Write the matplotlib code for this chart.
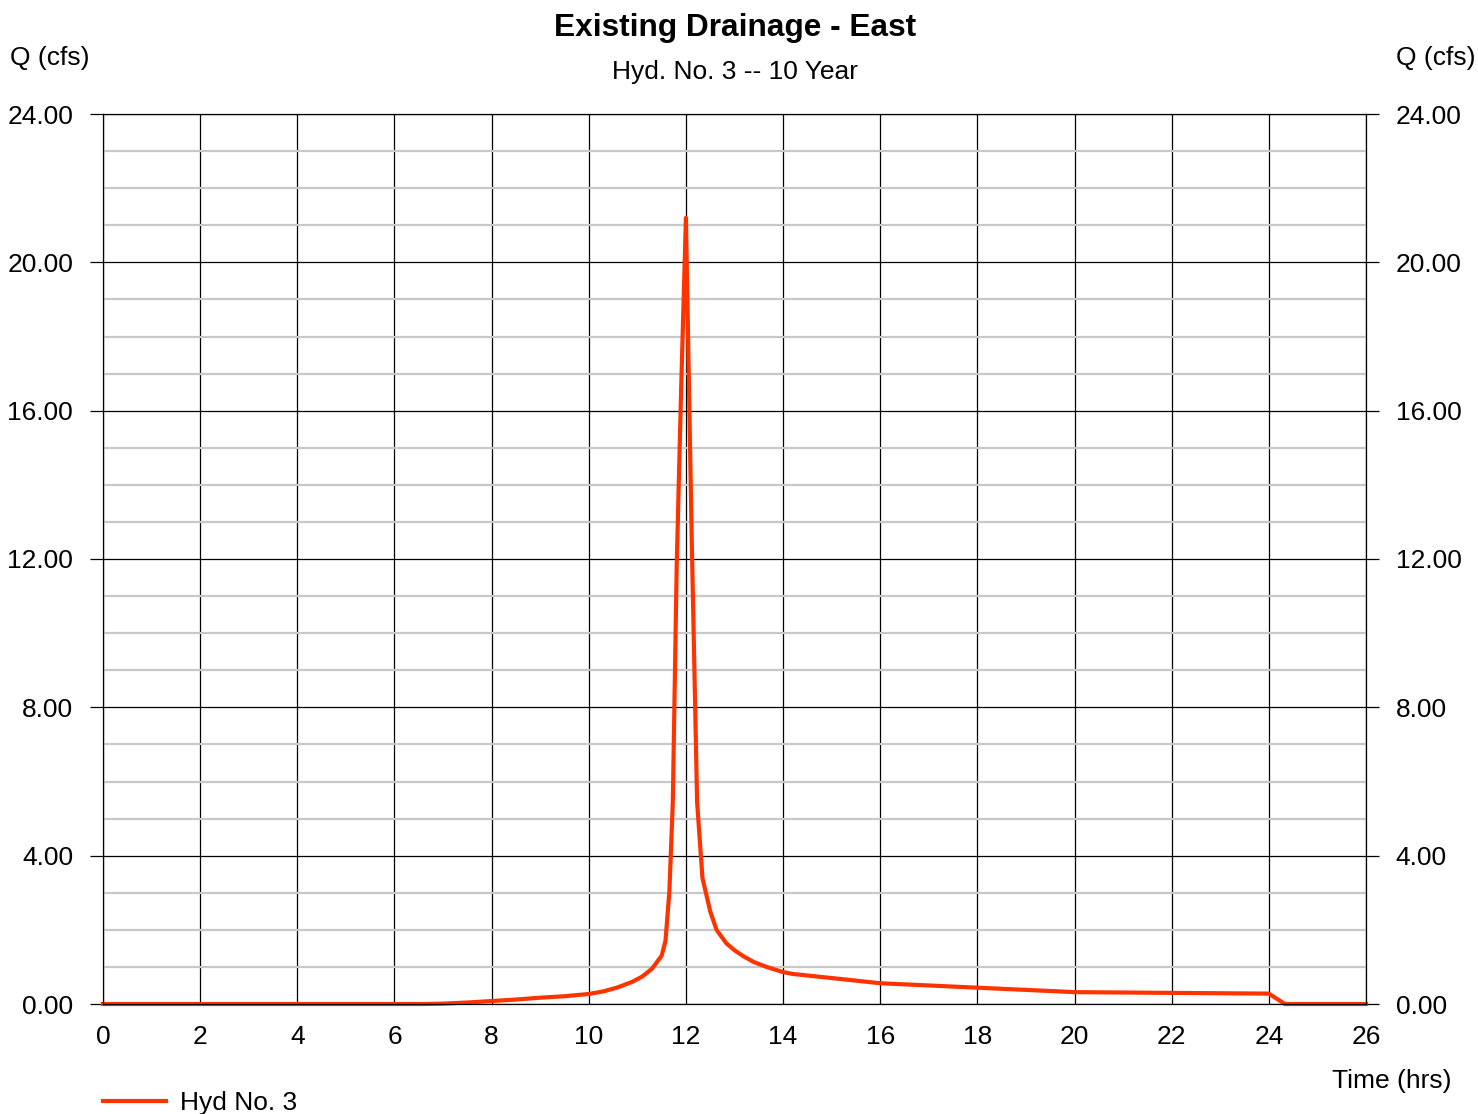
import matplotlib.pyplot as plt
from matplotlib.ticker import MultipleLocator

plt.rcParams['font.family'] = ['Liberation Sans', 'DejaVu Sans']

# hydrograph ordinates (hrs, cfs)
time_hrs = [0.0, 6.6, 7.0, 7.5, 8.0, 8.5, 9.0, 9.5, 10.0, 10.3, 10.6, 10.9,
            11.1, 11.3, 11.5, 11.58, 11.66, 11.73, 11.81, 11.9, 12.0, 12.12,
            12.23, 12.34, 12.5, 12.63, 12.83, 13.0, 13.18, 13.4, 13.66, 14.0,
            14.2, 15.0, 16.0, 17.0, 18.0, 19.0, 20.0, 21.0, 22.0, 23.0, 24.0,
            24.33, 26.0]
flow_cfs = [0.0, 0.0, 0.01, 0.04, 0.08, 0.12, 0.17, 0.21, 0.27, 0.34, 0.45,
            0.60, 0.74, 0.95, 1.30, 1.71, 3.05, 5.45, 11.8, 16.5, 21.2, 12.5,
            5.45, 3.40, 2.50, 2.00, 1.64, 1.45, 1.29, 1.13, 1.00, 0.86, 0.81,
            0.70, 0.56, 0.50, 0.44, 0.38, 0.32, 0.31, 0.30, 0.29, 0.28, 0.0,
            0.0]

x_ticks = list(range(0, 27, 2))
y_ticks = [0, 4, 8, 12, 16, 20, 24]

fs = 19

fig = plt.figure(figsize=(14.78, 11.14), dpi=100)
ax = fig.add_axes([103 / 1478, 1 - 1004 / 1114, 1263 / 1478, 890 / 1114])

ax.set_xlim(0, 26)
ax.set_ylim(0, 24)
ax.set_xticks(x_ticks)
ax.set_yticks(y_ticks)
ax.set_yticklabels([f'{v:.2f}' for v in y_ticks])
ax.yaxis.set_minor_locator(MultipleLocator(1))

ax.grid(which='minor', axis='y', color='#c8c8c8', linewidth=1.6)
ax.grid(which='major', axis='both', color='black', linewidth=0.9)
ax.set_axisbelow(True)

for s in ax.spines.values():
    s.set_linewidth(0.9)

ax.tick_params(axis='y', which='major', direction='out', length=9.5, width=0.9,
               labelsize=fs, pad=12, left=True, right=True,
               labelleft=True, labelright=True)
ax.tick_params(axis='y', which='minor', length=0)
ax.tick_params(axis='x', length=0, labelsize=fs, pad=15)

ax.plot(time_hrs, flow_cfs, color='#ff3300', linewidth=3.0,
        solid_joinstyle='round', label='Hyd No. 3', clip_on=False)

fig.text(735 / 1478, 1 - 28 / 1114, 'Existing Drainage - East',
         ha='center', va='center', fontsize=22.8, fontweight='bold')
fig.text(735 / 1478, 1 - 72 / 1114, 'Hyd. No. 3 -- 10 Year',
         ha='center', va='center', fontsize=fs)
fig.text(10 / 1478, 1 - 58 / 1114, 'Q (cfs)', ha='left', va='center',
         fontsize=fs)
fig.text(1476 / 1478, 1 - 58 / 1114, 'Q (cfs)', ha='right', va='center',
         fontsize=fs)
fig.text(1451 / 1478, 1 - 1081 / 1114, 'Time (hrs)', ha='right',
         va='center', fontsize=fs)

leg = fig.legend(loc='center left', bbox_to_anchor=(92 / 1478, 1 - 1103 / 1114),
                 frameon=False, fontsize=fs, handlelength=2.4,
                 handletextpad=0.55, borderaxespad=0)

fig.savefig('out.png', dpi=100)
